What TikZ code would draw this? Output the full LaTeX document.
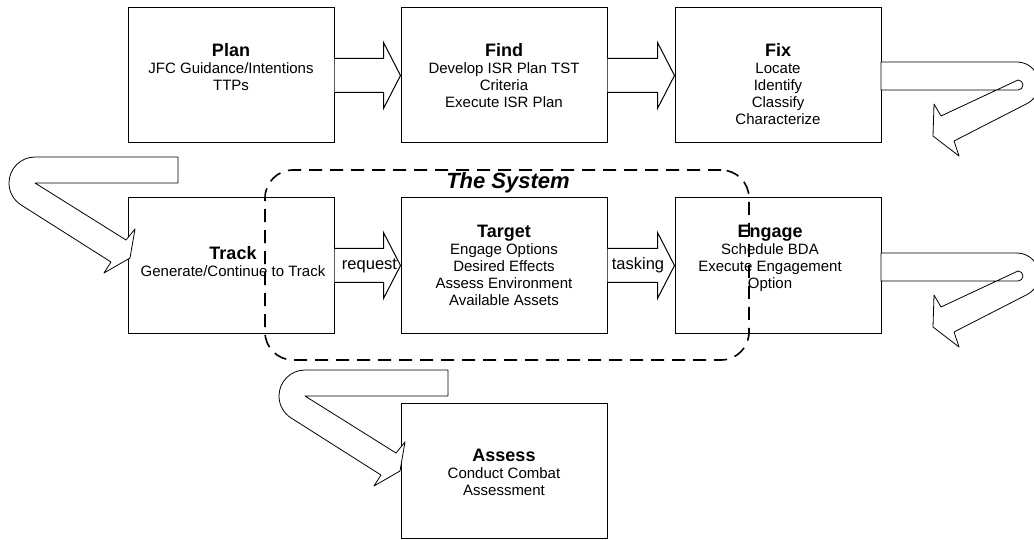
\documentclass[tikz,border=0pt]{standalone}
\usepackage{fontspec}
\setmainfont{Liberation Sans}
\usetikzlibrary{calc}
\newcommand\boxtitle[1]{{\fontsize{18}{17}\selectfont\bfseries #1}}
% block arrow from one stage box to the next, with an optional label on its body
\newcommand\blockarrow[4]{%
  \draw[blk] ($(#1.east)+(0,-17)$) -- ($(#2.west)+(-17,-17)$) -- ($(#2.west)+(-17,-33)$)
    -- (#2.west) -- ($(#2.west)+(-17,33)$) -- ($(#2.west)+(-17,17)$) -- ($(#1.east)+(0,17)$);
  \node[lbl] (#1-#2) at ($(#1.east)!0.5!(#2.west)+(#4,0)$) {#3};}
\begin{document}
\begin{tikzpicture}[x=1pt,y=1pt,yscale=-1,
  stage/.style={draw, line width=1pt, fill=white, minimum width=206pt, minimum height=135pt, inner sep=0pt},
  stagetext/.style={anchor=north, align=center, inner sep=0pt, font=\fontsize{15}{17}\selectfont},
  blk/.style={draw, line width=1pt, fill=white, line join=miter},
  lbl/.style={inner sep=0pt, font=\fontsize{16.5}{18}\selectfont},
  uturn/.style={draw, line width=0.8pt, fill=white, line join=round},
  frame/.style={draw, line width=1.6pt, dash pattern=on 13pt off 8pt, rounded corners=28pt,
    minimum width=484pt, minimum height=190pt, inner sep=0pt}]
\useasboundingbox (0,0) rectangle (1034,540);
\clip (0,0) rectangle (1034,540);
\fill[white] (0,0) rectangle (1034,540);

% stage boxes
\node[stage] (plan)   at (231,75.5) {};
\node[stage] (find)   at (504,75.5) {};
\node[stage] (fix)    at (778,75.5) {};
\node[stage] (track)  at (231,265.5) {};
\node[stage] (target) at (504,265.5) {};
\node[stage] (engage) at (778,265.5) {};
\node[stage] (assess) at (504,471) {};

% straight block arrows
\blockarrow{plan}{find}{}{0}
\blockarrow{find}{fix}{}{0}
\blockarrow{track}{target}{request}{2}
\blockarrow{target}{engage}{tasking}{-3}

% U-turn arrows leaving a row on the right
\foreach \dy in {0,-191}{
  \begin{scope}[shift={(0,\dy)}]
    \draw[uturn] (881,253) -- (1017,253) arc[start angle=-90, end angle=64, radius=22]
      -- (954,332) -- (959,347) -- (933,327) -- (934,295) -- (941,307)
      -- (1018,271) arc[start angle=-90, end angle=90, radius=5] -- (881,281) -- cycle;
  \end{scope}}

% U-turn arrows entering a row from the left
\foreach \nx/\ny in {35/183, 305/396}{
  \begin{scope}[shift={(\nx,\ny)}]
    \draw[uturn] (143,-26) -- (0,-26) arc[start angle=270, end angle=122.5, radius=26]
      -- (76,79) -- (69,90) -- (95,75) -- (100,46) -- (91,57) -- (0,0) -- (143,0) -- cycle;
  \end{scope}}

% stage texts
\node[stagetext] (plan-t)   at (231,43.5)  {\boxtitle{Plan}\\JFC Guidance/Intentions\\TTPs};
\node[stagetext] (find-t)   at (504,43.5)  {\boxtitle{Find}\\Develop ISR Plan TST\\Criteria\\Execute ISR Plan};
\node[stagetext] (fix-t)    at (778,43.5)  {\boxtitle{Fix}\\Locate\\Identify\\Classify\\Characterize};
\node[stagetext] (track-t)  at (233,246.5) {\boxtitle{Track}\\Generate/Continue to Track};
\node[stagetext] (target-t) at (504,224.5) {\boxtitle{Target}\\Engage Options\\Desired Effects\\Assess Environment\\Available Assets};
\node[stagetext] (engage-t) at (770,224.5) {\boxtitle{Engage}\\Schedule BDA\\Execute Engagement\\Option};
\node[stagetext] (assess-t) at (504,448.5) {\boxtitle{Assess}\\Conduct Combat\\Assessment};

% the system boundary
\node[frame] (system) at (507,265) {};
\node[font=\fontsize{22}{24}\selectfont\bfseries\itshape, inner sep=0pt] (system-t) at (508,183) {The System};
\end{tikzpicture}
\end{document}
